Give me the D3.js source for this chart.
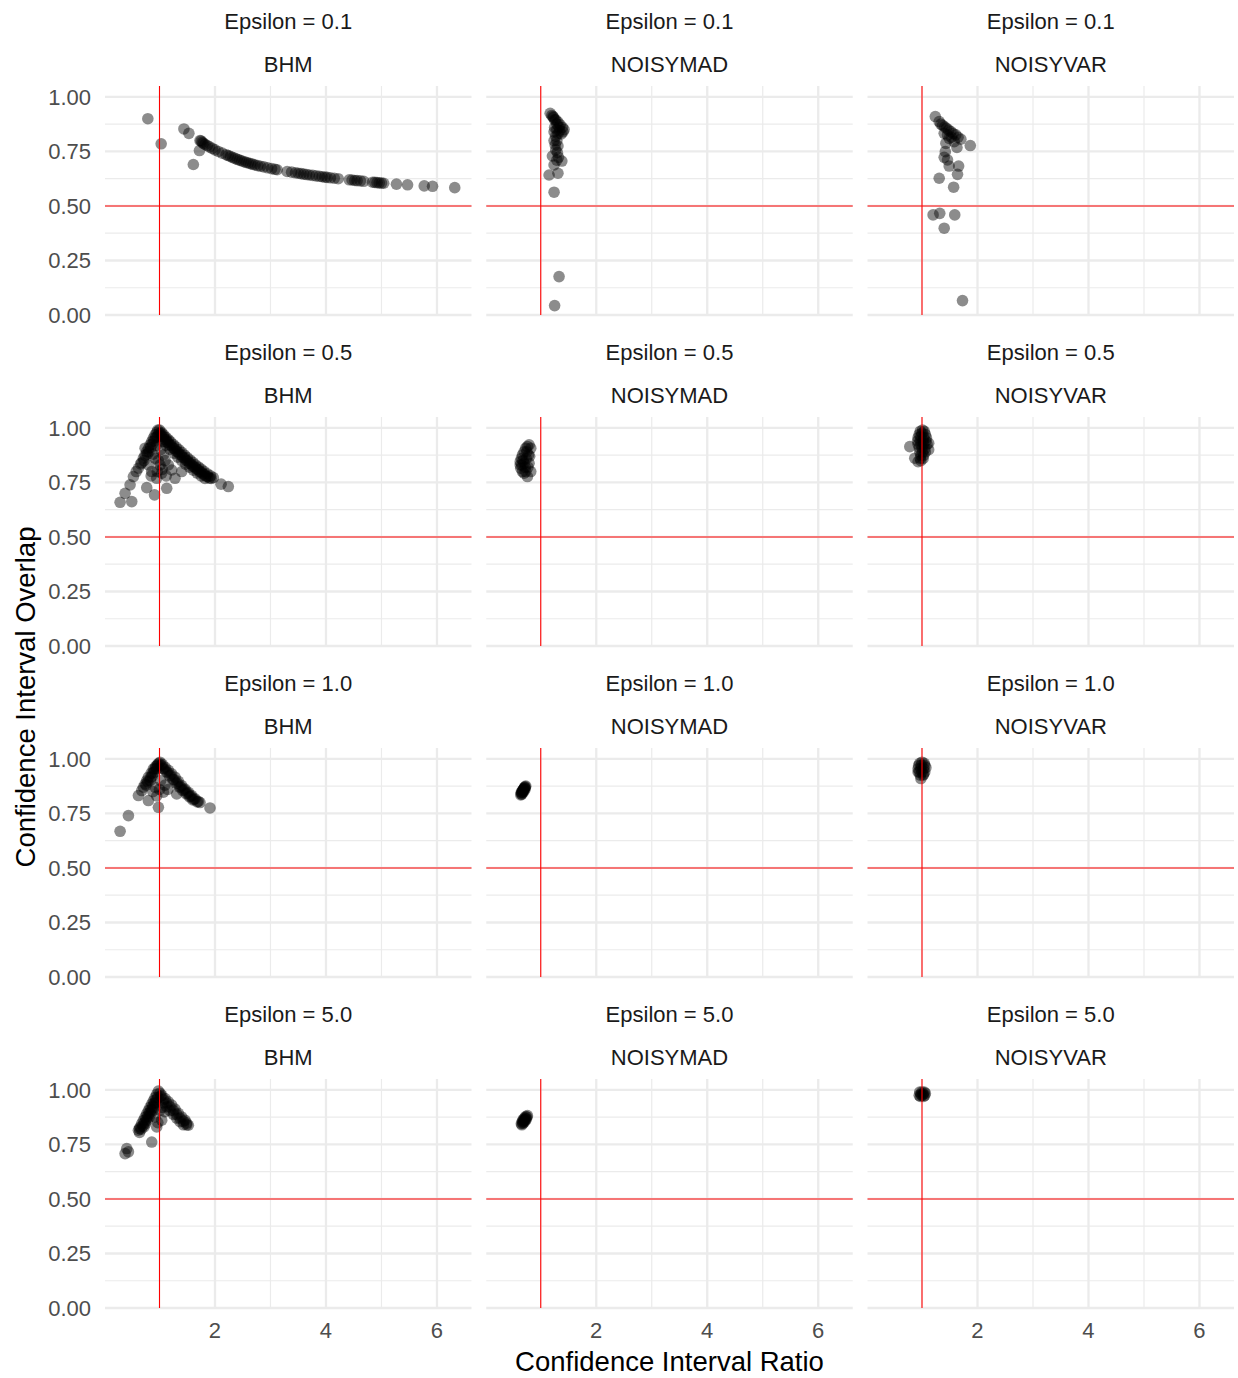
<!DOCTYPE html>
<html><head><meta charset="utf-8">
<script src="https://cdn.jsdelivr.net/npm/d3@7"></script>
<style>body{margin:0;background:#fff}svg text{font-family:"Liberation Sans",Arial,Helvetica,sans-serif}</style>
</head><body><svg id="chart" width="1238" height="1378"></svg>
<script>
// ---- categories & ticks ----
const epsilons = ["0.1", "0.5", "1.0", "5.0"];
const methods = ["BHM", "NOISYMAD", "NOISYVAR"];
const xTicks = [2, 4, 6];
const xMinorTicks = [1, 3, 5];
const yTicks = [0, 0.25, 0.5, 0.75, 1];
const yMinorTicks = [0.125, 0.375, 0.625, 0.875];
const refX = 1, refY = 0.5;
const xTitle = "Confidence Interval Ratio";
const yTitle = "Confidence Interval Overlap";

// ---- data: [ratio, overlap] ----
const bhm_e01 = [[0.79,0.90],[1.03,0.785],[1.44,0.853],[1.53,0.833],[1.61,0.69],[1.72,0.754],
[1.73,0.80],[1.75,0.798],[1.77,0.792],[1.79,0.787],[1.82,0.782],[1.86,0.777],[1.90,0.771],[1.95,0.764],[2.00,0.757],[2.06,0.75],[2.13,0.742],[2.20,0.735],[2.24,0.731],[2.28,0.727],[2.32,0.722],[2.36,0.718],[2.40,0.714],[2.44,0.71],[2.48,0.707],[2.52,0.703],[2.56,0.70],[2.60,0.697],[2.64,0.694],[2.68,0.691],[2.72,0.688],[2.77,0.685],[2.82,0.682],[2.88,0.679],[2.95,0.675],[3.02,0.671],[3.08,0.668],[3.12,0.666],[3.30,0.658],[3.38,0.655],[3.45,0.652],[3.50,0.65],[3.55,0.648],[3.60,0.646],[3.65,0.644],[3.70,0.642],[3.76,0.64],[3.82,0.638],[3.88,0.636],[3.93,0.634],[3.98,0.632],[4.02,0.631],[4.08,0.629],[4.15,0.627],[4.22,0.625],[4.42,0.62],[4.47,0.619],[4.52,0.617],[4.56,0.616],[4.62,0.615],[4.68,0.613],[4.84,0.609],[4.88,0.608],[4.92,0.607],[4.96,0.606],[5.00,0.605],[5.04,0.604],
[5.27,0.60],[5.47,0.597],[5.77,0.592],[5.92,0.59],[6.32,0.584]];
const mad_e01 = [[1.17,0.925],[1.20,0.915],[1.23,0.905],[1.27,0.895],[1.31,0.885],[1.35,0.872],[1.39,0.86],[1.42,0.85],[1.40,0.84],[1.37,0.83],[1.22,0.91],[1.25,0.895],[1.29,0.875],[1.33,0.862],[1.25,0.86],[1.29,0.85],[1.34,0.845],[1.24,0.84],[1.31,0.83],[1.27,0.82],[1.24,0.80],[1.29,0.80],[1.26,0.78],[1.31,0.775],[1.27,0.757],[1.30,0.745],[1.29,0.71],[1.21,0.729],[1.38,0.706],[1.32,0.723],[1.24,0.688],[1.15,0.642],[1.31,0.65],[1.24,0.563],[1.33,0.176],[1.25,0.043]];
const var_e01 = [[1.24,0.91],[1.31,0.887],[1.37,0.87],[1.44,0.856],[1.52,0.841],[1.61,0.826],[1.70,0.806],[1.40,0.833],[1.49,0.81],[1.58,0.795],[1.43,0.787],[1.34,0.875],[1.41,0.862],[1.48,0.848],[1.56,0.832],[1.65,0.815],[1.46,0.825],[1.53,0.815],[1.87,0.777],[1.63,0.768],[1.42,0.749],[1.40,0.723],[1.46,0.711],[1.49,0.683],[1.66,0.683],[1.64,0.645],[1.31,0.627],[1.57,0.586],[1.20,0.459],[1.32,0.466],[1.59,0.459],[1.40,0.398],[1.73,0.066]];
const bhm_e05 = [[1.00,0.99],[1.04,0.978],[1.08,0.967],[1.12,0.956],[1.16,0.946],[1.20,0.936],[1.25,0.924],[1.30,0.912],[1.35,0.9],[1.40,0.888],[1.45,0.876],[1.50,0.864],[1.55,0.853],[1.60,0.842],[1.65,0.831],[1.70,0.821],[1.75,0.811],[1.80,0.801],[1.86,0.79],[1.92,0.78],[1.97,0.772],
[1.02,0.975],[1.07,0.96],[1.11,0.946],[1.15,0.935],[1.21,0.92],[1.27,0.905],[1.33,0.89],[1.39,0.876],[1.45,0.862],[1.51,0.848],[1.57,0.834],[1.63,0.821],[1.69,0.809],[1.75,0.797],[1.81,0.786],[1.87,0.776],[1.93,0.768],
[1.03,0.962],[1.08,0.948],[1.13,0.935],[1.18,0.922],[1.24,0.908],[1.30,0.893],[1.36,0.879],[1.42,0.865],[1.48,0.851],[1.54,0.838],[1.60,0.825],[1.66,0.813],[1.72,0.801],[1.78,0.79],[1.84,0.779],[1.90,0.77],
[1.06,0.938],[1.12,0.92],[1.19,0.902],[1.26,0.884],[1.33,0.866],[1.40,0.85],[1.47,0.834],[1.54,0.82],[1.61,0.806],[1.68,0.793],[1.75,0.78],[1.82,0.768],
[2.11,0.742],[2.24,0.731],
[0.29,0.659],[0.50,0.662],[0.38,0.70],[0.47,0.739],[0.53,0.777],[0.58,0.80],[0.62,0.815],[0.66,0.835],[0.71,0.861],[0.74,0.875],[0.77,0.891],[0.80,0.905],[0.83,0.922],[0.86,0.937],[0.89,0.953],[0.92,0.968],[0.95,0.98],[0.97,0.99],[0.90,0.94],[0.84,0.91],[0.78,0.88],[0.72,0.85],[0.68,0.84],
[0.93,0.955],[0.87,0.925],[0.81,0.89],[0.96,0.96],[0.99,0.975],
[0.77,0.726],[0.91,0.693],[1.13,0.723],[1.28,0.769],[1.40,0.80],[0.86,0.80],[0.95,0.769],[1.04,0.792],[1.16,0.83],[1.01,0.83],[0.80,0.83],[1.07,0.876],[0.92,0.861],[0.74,0.907],[1.22,0.807],[0.98,0.85],[1.10,0.85],[0.88,0.88],[1.02,0.90],[0.94,0.92],[1.05,0.81],[0.96,0.80],[1.12,0.78],[0.85,0.78]];
const mad_e05 = [[0.79,0.922],[0.82,0.907],[0.76,0.915],[0.73,0.907],[0.70,0.89],[0.67,0.876],[0.65,0.86],[0.63,0.845],[0.63,0.83],[0.64,0.815],[0.67,0.80],[0.70,0.792],[0.76,0.777],[0.82,0.80],[0.79,0.838],[0.78,0.876],[0.70,0.838],[0.74,0.86],[0.72,0.82],[0.68,0.85],[0.75,0.89],[0.66,0.83],[0.73,0.80],[0.77,0.82],[0.80,0.87]];
const var_e05 = [[1.01,0.99],[0.97,0.985],[1.04,0.985],[0.95,0.97],[1.00,0.975],[1.06,0.97],[0.93,0.955],[0.98,0.96],[1.03,0.955],[1.08,0.955],[0.92,0.94],[0.97,0.94],[1.02,0.94],[1.07,0.94],[0.93,0.925],[0.98,0.925],[1.03,0.925],[1.09,0.925],[0.95,0.91],[1.00,0.91],[1.05,0.905],[0.96,0.89],[1.01,0.89],[1.06,0.89],[0.98,0.875],[1.03,0.875],[0.97,0.86],[1.02,0.86],[0.98,0.85],[0.78,0.914],[0.87,0.861],[0.93,0.845],[1.12,0.93],[1.12,0.90]];
const bhm_e10 = [[1.01,0.985],[1.05,0.975],[1.10,0.962],[1.16,0.948],[1.22,0.932],[1.28,0.916],[1.34,0.897],[1.40,0.878],[1.46,0.862],[1.52,0.847],[1.58,0.832],[1.64,0.817],[1.70,0.805],[1.73,0.80],
[1.06,0.955],[1.12,0.94],[1.18,0.922],[1.24,0.905],[1.30,0.888],[1.36,0.87],[1.42,0.855],[1.48,0.84],[1.54,0.826],[1.60,0.812],
[1.03,0.97],[1.08,0.955],[1.14,0.94],[1.20,0.925],[1.26,0.905],[1.32,0.89],[1.38,0.872],[1.44,0.858],[1.50,0.843],[1.56,0.828],[1.62,0.815],[1.68,0.803],
[1.91,0.775],
[0.97,0.975],[0.93,0.965],[0.89,0.954],[0.85,0.935],[0.80,0.916],[0.77,0.90],[0.74,0.885],[0.71,0.87],[0.95,0.955],[0.91,0.94],[0.87,0.92],[0.83,0.90],
[0.99,0.98],[0.96,0.97],[0.92,0.955],[0.88,0.935],[0.84,0.915],[0.79,0.895],[0.76,0.88],
[0.62,0.832],[0.80,0.809],[0.98,0.778],[1.07,0.847],[1.31,0.839],[0.44,0.74],[0.29,0.668],[0.92,0.87],[0.68,0.855],[1.00,0.86],[1.10,0.88],[0.95,0.83],[1.02,0.90],[0.88,0.85],[1.15,0.86]];
const mad_e10 = [[0.64,0.835],[0.65,0.840],[0.66,0.845],[0.67,0.850],[0.68,0.855],[0.69,0.860],[0.70,0.864],[0.71,0.868],[0.72,0.872],[0.73,0.875],[0.65,0.848],[0.67,0.855],[0.69,0.862],[0.71,0.870],[0.66,0.838],[0.68,0.846],[0.70,0.854],[0.72,0.862]];
const var_e10 = [[1.00,0.985],[0.96,0.98],[1.04,0.98],[0.94,0.97],[0.99,0.97],[1.05,0.97],[0.93,0.955],[0.98,0.955],[1.03,0.955],[1.07,0.96],[0.95,0.94],[1.00,0.94],[1.05,0.94],[0.97,0.925],[1.02,0.925],[0.98,0.91],[1.03,0.93],[0.93,0.94]];
const bhm_e50 = [[0.98,0.995],[1.01,0.985],
[1.04,0.975],[1.10,0.96],[1.16,0.945],[1.22,0.93],[1.28,0.912],[1.34,0.893],[1.40,0.876],[1.46,0.861],[1.52,0.838],[1.49,0.848],
[1.07,0.94],[1.13,0.922],[1.19,0.905],[1.25,0.888],[1.31,0.87],[1.37,0.854],[1.43,0.84],[1.05,0.92],[1.10,0.90],
[1.02,0.97],[1.07,0.955],[1.13,0.94],[1.19,0.922],[1.25,0.905],[1.31,0.888],[1.37,0.87],[1.43,0.856],[1.49,0.84],
[0.95,0.98],[0.92,0.965],[0.89,0.95],[0.86,0.935],[0.83,0.92],[0.80,0.905],[0.77,0.89],[0.74,0.875],[0.71,0.86],[0.68,0.845],[0.65,0.83],[0.62,0.815],[0.64,0.822],
[0.97,0.965],[0.94,0.955],[0.91,0.94],[0.88,0.925],[0.85,0.91],[0.82,0.895],[0.79,0.88],[0.76,0.865],[0.73,0.85],[0.70,0.835],[0.67,0.82],[0.64,0.805],
[0.93,0.94],[0.90,0.92],[0.87,0.905],[0.84,0.89],[0.81,0.875],[0.78,0.86],[0.75,0.845],[0.72,0.83],
[0.95,0.83],[1.04,0.861],[1.01,0.907],[0.92,0.876],[0.97,0.85],[0.86,0.761],[0.41,0.731],[0.38,0.708],[0.44,0.716]];
const mad_e50 = [[0.65,0.845],[0.67,0.851],[0.69,0.857],[0.71,0.863],[0.73,0.869],[0.75,0.876],[0.76,0.882],[0.66,0.840],[0.68,0.846],[0.70,0.852],[0.72,0.859],[0.74,0.865],[0.67,0.858],[0.69,0.865],[0.71,0.872],[0.73,0.878]];
const var_e50 = [[0.96,0.99],[1.00,0.99],[1.04,0.99],[0.98,0.98],[1.02,0.98],[1.06,0.985],[0.95,0.975],[1.00,0.975],[1.05,0.975],[0.97,0.97],[1.03,0.97]];

const panelData = [
  [bhm_e01, mad_e01, var_e01],
  [bhm_e05, mad_e05, var_e05],
  [bhm_e10, mad_e10, var_e10],
  [bhm_e50, mad_e50, var_e50]
];

// ---- layout ----
const panelLeft = 105, panelW = 366.5, colStep = 381.25;
const panelTop = 86, panelH = 229, rowStep = 331;
const gridCol = "#ebebeb";

const svg = d3.select("#chart");
svg.append("rect").attr("width", 1238).attr("height", 1378).attr("fill", "#fff");

const x = d3.scaleLinear().domain([0.018, 6.622]).range([0, panelW]);
const y = d3.scaleLinear().domain([0, 1.05]).range([panelH, 0]);

epsilons.forEach((eps, r) => {
  methods.forEach((m, c) => {
    const gx = panelLeft + c * colStep, gy = panelTop + r * rowStep;
    const g = svg.append("g").attr("transform", `translate(${gx},${gy})`);

    // minor grid
    g.selectAll(".ymin").data(yMinorTicks).join("line")
      .attr("x1", 0).attr("x2", panelW).attr("y1", d => y(d)).attr("y2", d => y(d))
      .attr("stroke", gridCol).attr("stroke-width", 1.2);
    g.selectAll(".xmin").data(xMinorTicks).join("line")
      .attr("y1", 0).attr("y2", panelH).attr("x1", d => x(d)).attr("x2", d => x(d))
      .attr("stroke", gridCol).attr("stroke-width", 1.2);
    // major grid
    g.selectAll(".ymaj").data(yTicks).join("line")
      .attr("x1", 0).attr("x2", panelW).attr("y1", d => y(d)).attr("y2", d => y(d))
      .attr("stroke", gridCol).attr("stroke-width", 2.3);
    g.selectAll(".xmaj").data(xTicks).join("line")
      .attr("y1", 0).attr("y2", panelH).attr("x1", d => x(d)).attr("x2", d => x(d))
      .attr("stroke", gridCol).attr("stroke-width", 2.3);

    // points
    g.selectAll("circle").data(panelData[r][c]).join("circle")
      .attr("cx", d => x(d[0])).attr("cy", d => y(d[1])).attr("r", 5.8)
      .attr("fill", "#000").attr("fill-opacity", 0.45);

    // reference lines
    g.append("line").attr("x1", x(refX)).attr("x2", x(refX)).attr("y1", 0).attr("y2", panelH)
      .attr("stroke", "#ff0000").attr("stroke-width", 1.1);
    g.append("line").attr("x1", 0).attr("x2", panelW).attr("y1", y(refY)).attr("y2", y(refY))
      .attr("stroke", "#ff0000").attr("stroke-width", 1.1);

    // strips
    const cx = gx + panelW / 2;
    svg.append("text").attr("x", cx).attr("y", gy - 65).attr("dy", "0.36em")
      .attr("text-anchor", "middle").attr("font-size", 22).attr("fill", "#1a1a1a")
      .text(`Epsilon = ${eps}`);
    svg.append("text").attr("x", cx).attr("y", gy - 22).attr("dy", "0.36em")
      .attr("text-anchor", "middle").attr("font-size", 22).attr("fill", "#1a1a1a")
      .text(m);

    // y tick labels
    if (c === 0) {
      g.selectAll(".ytl").data(yTicks).join("text")
        .attr("x", -14).attr("y", d => y(d)).attr("dy", "0.36em")
        .attr("text-anchor", "end").attr("font-size", 22).attr("fill", "#4d4d4d")
        .text(d => d3.format(".2f")(d));
    }
    // x tick labels
    if (r === epsilons.length - 1) {
      g.selectAll(".xtl").data(xTicks).join("text")
        .attr("x", d => x(d)).attr("y", panelH + 22).attr("dy", "0.36em")
        .attr("text-anchor", "middle").attr("font-size", 22).attr("fill", "#4d4d4d")
        .text(d => d);
    }
  });
});

// axis titles
const plotMidX = panelLeft + (2 * colStep + panelW) / 2;
const plotMidY = panelTop + (3 * rowStep + panelH) / 2;
svg.append("text").attr("x", plotMidX).attr("y", 1361).attr("dy", "0.36em")
  .attr("text-anchor", "middle").attr("font-size", 27.5).attr("fill", "#000").text(xTitle);
svg.append("text").attr("transform", `translate(25,${plotMidY}) rotate(-90)`).attr("dy", "0.36em")
  .attr("text-anchor", "middle").attr("font-size", 27.5).attr("fill", "#000").text(yTitle);
</script>
</body></html>
